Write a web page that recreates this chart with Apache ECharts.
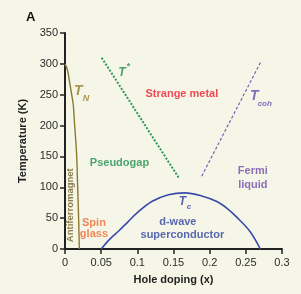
<!DOCTYPE html>
<html><head><meta charset="utf-8">
<script src="https://cdn.jsdelivr.net/npm/echarts@6/dist/echarts.min.js"></script>
<style>html,body{margin:0;padding:0;background:#f6f6e8}#c{width:301px;height:294px}</style>
</head><body><div id="c"></div>
<script>
// Data (hole doping x, temperature K)
const xTickLabels = ['0','0.05','0.1','0.15','0.2','0.25','0.3'];
const yTickLabels = ['0','50','100','150','200','250','300','350'];
const tnCurve = [[0,300],[0.003,292],[0.005,280],[0.007,266],[0.009,252],[0.0115,233],[0.013,206],[0.015,174],[0.0162,150],[0.017,120],[0.018,82],[0.019,42],[0.0198,0]];
const tStarLine = [[0.0507,310],[0.158,114]];
const tCohLine = [[0.189,118],[0.271,304]];
const tcDome = [[0.05,0],[0.062,16],[0.075,30],[0.087,44],[0.1,59],[0.12,77],[0.143,88],[0.166,91],[0.189,86],[0.21,77],[0.224,66],[0.237,52],[0.256,28],[0.27,0]];
// Annotations: [x, T, text, styleKey]
const annotations = [
  [0.0184,256,'T','tnT'],[0.029,244,'N','tnS'],
  [0.0787,286,'T','tsT'],[0.0877,296,'*','tsS'],
  [0.1616,252,'Strange metal','sm'],
  [0.2617,248,'T','tcohT'],[0.2762,236,'coh','tcohS'],
  [0.0753,140,'Pseudogap','pg'],
  [0.2597,127,'Fermi','fl'],[0.2597,103,'liquid','fl'],
  [0.040,42,'Spin','sg'],[0.040,24,'glass','sg'],
  [0.1623,77,'T','tcT'],[0.1713,69,'c','tcS'],
  [0.156,43,'d-wave','sc'],[0.1623,23,'superconductor','sc'],
  [0.0079,71,'Antiferromagnet','af']
];
const F = '"Liberation Sans", Arial, sans-serif';
const styles = {
  tnT:{color:'#958228',fontSize:14,fontWeight:'bold',fontStyle:'italic'},
  tnS:{color:'#958228',fontSize:9,fontWeight:'bold',fontStyle:'italic'},
  tsT:{color:'#1f8a4a',fontSize:12,fontWeight:'bold',fontStyle:'italic'},
  tsS:{color:'#1f8a4a',fontSize:9,fontWeight:'bold'},
  sm:{color:'#f01e30',fontSize:11,fontWeight:'bold'},
  tcohT:{color:'#5f4cae',fontSize:14,fontWeight:'bold',fontStyle:'italic'},
  tcohS:{color:'#5f4cae',fontSize:8,fontWeight:'bold',fontStyle:'italic'},
  pg:{color:'#1f9050',fontSize:11,fontWeight:'bold'},
  fl:{color:'#6e4eaa',fontSize:11,fontWeight:'bold'},
  sg:{color:'#f26a30',fontSize:11,fontWeight:'bold'},
  tcT:{color:'#2e3ea0',fontSize:12,fontWeight:'bold',fontStyle:'italic'},
  tcS:{color:'#2e3ea0',fontSize:8,fontWeight:'bold',fontStyle:'italic'},
  sc:{color:'#3044a0',fontSize:11,fontWeight:'bold'},
  af:{color:'#6e5e20',fontSize:9.5,fontWeight:'bold',rotate:90}
};
const chart = echarts.init(document.getElementById('c'), null, {renderer:'canvas'});
const labelData = annotations.map(a => ({
  value:[a[0],a[1]],
  label:Object.assign({show:true,position:'inside',formatter:a[2],fontFamily:F,align:'center',verticalAlign:'middle'}, styles[a[3]])
}));
chart.setOption({
  backgroundColor:'#f6f6e8',
  animation:false,
  title:{text:'A',left:21,top:6,textStyle:{fontFamily:F,fontSize:13,fontWeight:'bold',color:'#111'}},
  grid:{left:65,right:19,top:33,bottom:45},
  xAxis:{type:'value',min:0,max:0.3,interval:0.05,
    name:'Hole doping (x)',nameLocation:'middle',nameGap:25,
    nameTextStyle:{fontFamily:F,fontSize:11,fontWeight:'bold',color:'#222'},
    axisLine:{show:true,onZero:false,lineStyle:{color:'#222',width:2}},
    axisTick:{show:true,length:5,lineStyle:{color:'#222',width:1.5}},
    splitLine:{show:false},
    axisLabel:{margin:8,fontFamily:F,fontSize:11,color:'#2a2a2a',formatter:(v)=>xTickLabels[Math.round(v/0.05)]}},
  yAxis:{type:'value',min:0,max:350,interval:50,
    name:'Temperature (K)',nameLocation:'middle',nameGap:32,
    nameTextStyle:{fontFamily:F,fontSize:11,fontWeight:'bold',color:'#222'},
    axisLine:{show:true,onZero:false,lineStyle:{color:'#222',width:2}},
    axisTick:{show:true,length:5,lineStyle:{color:'#222',width:1.5}},
    splitLine:{show:false},
    axisLabel:{margin:7,fontFamily:F,fontSize:11,color:'#2a2a2a',formatter:(v)=>yTickLabels[Math.round(v/50)]}},
  series:[
    {type:'line',data:tnCurve,smooth:0.3,showSymbol:false,lineStyle:{color:'#8a7a30',width:1.4},z:3},
    {type:'line',data:tStarLine,showSymbol:false,lineStyle:{color:'#2a9a58',width:2,type:[2,1.6]},z:3},
    {type:'line',data:tCohLine,showSymbol:false,lineStyle:{color:'#7466b4',width:1.2,type:[3,2]},z:3},
    {type:'line',data:tcDome,smooth:0.35,showSymbol:false,lineStyle:{color:'#3a4aa8',width:1.6},z:3},
    {type:'scatter',data:labelData,symbolSize:0,silent:true,z:5}
  ]
});
</script></body></html>
